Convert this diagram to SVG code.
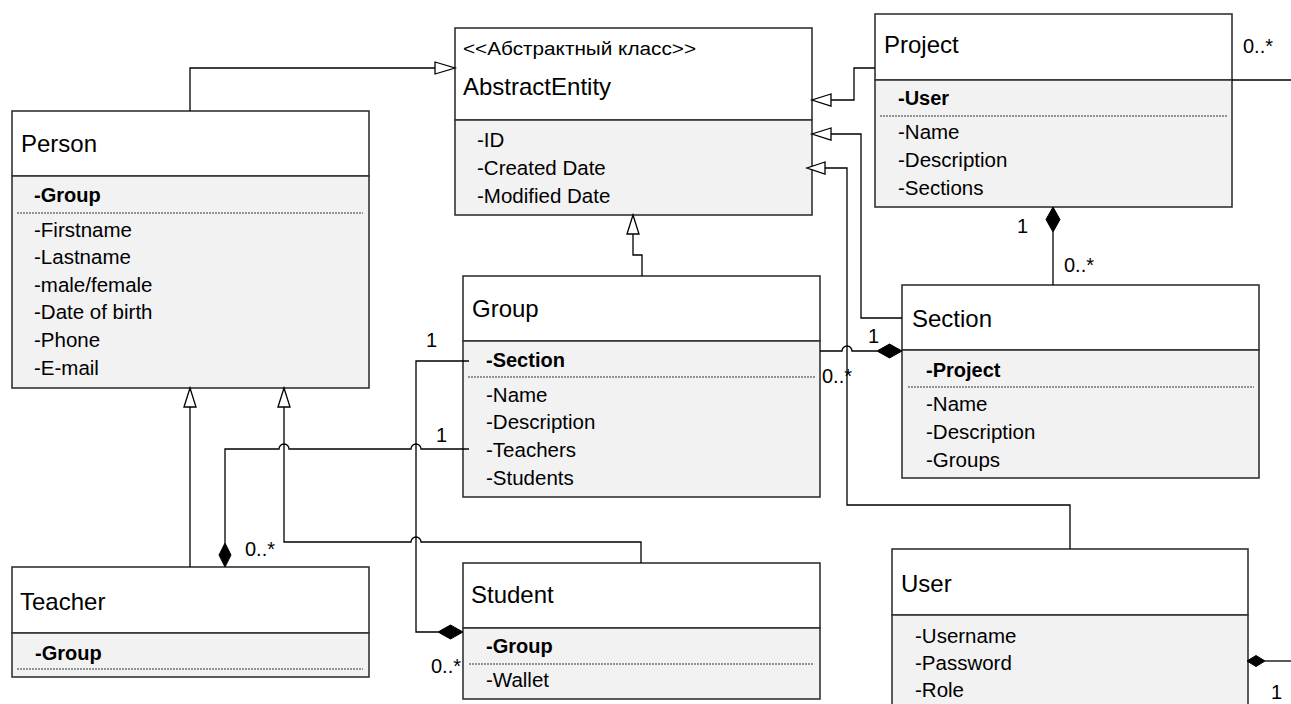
<svg xmlns="http://www.w3.org/2000/svg" width="1291" height="704" viewBox="0 0 1291 704">
  <style>
    text { font-family: "Liberation Sans", Arial, sans-serif; fill: #000; }
    .t { font-size: 24px; }
    .st { font-size: 18px; }
    .a { font-size: 20.5px; }
    .b { font-size: 20px; font-weight: bold; }
    .lbl { font-size: 20px; }
    .hd { fill: #ffffff; stroke: #333; stroke-width: 1.6; }
    .bd { fill: #f2f2f2; stroke: #333; stroke-width: 1.6; }
    .dot { stroke: #333; stroke-width: 1; stroke-dasharray: 2 1; fill: none; }
    .conn { fill: none; stroke: #000; stroke-width: 1.3; }
    .tri { fill: #fff; stroke: #000; stroke-width: 1.3; }
    .dia { fill: #000; stroke: #000; stroke-width: 1; }
  </style>

  <!-- Person -->
  <g id="person">
    <rect class="hd" x="12" y="111" width="357" height="65"/>
    <rect class="bd" x="12" y="176" width="357" height="212"/>
    <text class="t" x="21" y="152">Person</text>
    <text class="b" x="34" y="202">-Group</text>
    <line class="dot" x1="17" y1="213" x2="363" y2="213"/>
    <text class="a" x="34" y="237">-Firstname</text>
    <text class="a" x="34" y="264">-Lastname</text>
    <text class="a" x="34" y="292">-male/female</text>
    <text class="a" x="34" y="319">-Date of birth</text>
    <text class="a" x="34" y="347">-Phone</text>
    <text class="a" x="34" y="375">-E-mail</text>
  </g>

  <!-- AbstractEntity -->
  <g id="abstract-entity">
    <rect class="hd" x="455" y="28" width="357" height="92"/>
    <rect class="bd" x="455" y="120" width="357" height="95"/>
    <text class="st" x="463" y="55" textLength="233" lengthAdjust="spacingAndGlyphs">&lt;&lt;Абстрактный класс&gt;&gt;</text>
    <text class="t" x="463" y="95">AbstractEntity</text>
    <text class="a" x="477" y="147">-ID</text>
    <text class="a" x="477" y="175">-Created Date</text>
    <text class="a" x="477" y="203">-Modified Date</text>
  </g>

  <!-- Project -->
  <g id="project">
    <rect class="hd" x="875" y="14" width="357" height="66"/>
    <rect class="bd" x="875" y="80" width="357" height="127"/>
    <text class="t" x="884" y="53">Project</text>
    <text class="b" x="898" y="105">-User</text>
    <line class="dot" x1="880" y1="116" x2="1227" y2="116"/>
    <text class="a" x="898" y="139">-Name</text>
    <text class="a" x="898" y="167">-Description</text>
    <text class="a" x="898" y="195">-Sections</text>
  </g>

  <!-- Group -->
  <g id="group">
    <rect class="hd" x="463" y="276" width="357" height="65"/>
    <rect class="bd" x="463" y="341" width="357" height="156"/>
    <text class="t" x="472" y="317">Group</text>
    <text class="b" x="486" y="367">-Section</text>
    <line class="dot" x1="468" y1="377" x2="815" y2="377"/>
    <text class="a" x="486" y="402">-Name</text>
    <text class="a" x="486" y="429">-Description</text>
    <text class="a" x="486" y="457">-Teachers</text>
    <text class="a" x="486" y="485">-Students</text>
  </g>

  <!-- Section -->
  <g id="section">
    <rect class="hd" x="902" y="285" width="357" height="65"/>
    <rect class="bd" x="902" y="350" width="357" height="128"/>
    <text class="t" x="912" y="327">Section</text>
    <text class="b" x="926" y="377">-Project</text>
    <line class="dot" x1="908" y1="387" x2="1254" y2="387"/>
    <text class="a" x="926" y="411">-Name</text>
    <text class="a" x="926" y="439">-Description</text>
    <text class="a" x="926" y="467">-Groups</text>
  </g>

  <!-- Teacher -->
  <g id="teacher">
    <rect class="hd" x="12" y="567" width="357" height="66"/>
    <rect class="bd" x="12" y="633" width="357" height="44"/>
    <text class="t" x="20" y="610">Teacher</text>
    <text class="b" x="35" y="660">-Group</text>
    <line class="dot" x1="17" y1="669" x2="363" y2="669"/>
  </g>

  <!-- Student -->
  <g id="student">
    <rect class="hd" x="463" y="563" width="357" height="65"/>
    <rect class="bd" x="463" y="628" width="357" height="71"/>
    <text class="t" x="471" y="603">Student</text>
    <text class="b" x="486" y="653">-Group</text>
    <line class="dot" x1="469" y1="664" x2="814" y2="664"/>
    <text class="a" x="486" y="687">-Wallet</text>
  </g>

  <!-- User -->
  <g id="user">
    <rect class="hd" x="892" y="549" width="356" height="66"/>
    <rect class="bd" x="892" y="615" width="356" height="100"/>
    <text class="t" x="901" y="592">User</text>
    <text class="a" x="915" y="643">-Username</text>
    <text class="a" x="915" y="670">-Password</text>
    <text class="a" x="915" y="697">-Role</text>
  </g>

  <!-- Connectors -->
  <g id="connectors">
    <!-- generalizations to AbstractEntity -->
    <path class="conn" d="M190,111 V68 H435"/>
    <polygon class="tri" points="435,62 455,68 435,74"/>

    <path class="conn" d="M642,276 V255 H633 V234"/>
    <polygon class="tri" points="627,234 633,215 639,234"/>

    <path class="conn" d="M875,68 H854 V100 H831"/>
    <polygon class="tri" points="831,94 812,100 831,106"/>

    <path class="conn" d="M902,318 H861 V134 H831"/>
    <polygon class="tri" points="831,128 812,134 831,140"/>

    <path class="conn" d="M1070,549 V505 H847 V168 H825"/>
    <polygon class="tri" points="825,162 807,168 825,174"/>

    <!-- generalizations to Person -->
    <path class="conn" d="M190,567 V407"/>
    <polygon class="tri" points="184,407 190,388 196,407"/>

    <path class="conn" d="M284,407 V542 H411 a5,5 0 0 1 10,0 H641 V563"/>
    <polygon class="tri" points="278,407 284,388 290,407"/>

    <!-- Group - Section composition -->
    <path class="conn" d="M820,351 H842 a5,5 0 0 1 10,0 H877"/>
    <polygon class="dia" points="877,351 889.5,344 902,351 889.5,358"/>
    <text class="lbl" x="868" y="343">1</text>
    <text class="lbl" x="822" y="383">0..*</text>

    <!-- Project - Section composition -->
    <path class="conn" d="M1053,285 V232"/>
    <polygon class="dia" points="1053,207 1060,219.5 1053,232 1046,219.5"/>
    <text class="lbl" x="1017" y="233">1</text>
    <text class="lbl" x="1064" y="272">0..*</text>

    <!-- Project - User association -->
    <path class="conn" d="M1232,80 H1291"/>
    <text class="lbl" x="1243" y="53">0..*</text>

    <!-- User composition -->
    <path class="conn" d="M1265,661 H1291"/>
    <polygon class="dia" points="1247,661 1256,655.5 1265,661 1256,666.5"/>
    <text class="lbl" x="1271" y="699">1</text>

    <!-- Teacher - Group -->
    <path class="conn" d="M225,543 V449 H279 a5,5 0 0 1 10,0 H411 a5,5 0 0 1 10,0 H469"/>
    <polygon class="dia" points="225,567 231,555 225,543 219,555"/>
    <text class="lbl" x="245" y="556">0..*</text>
    <text class="lbl" x="436" y="442">1</text>

    <!-- Group - Student -->
    <path class="conn" d="M469,361 H416 V632 H438"/>
    <polygon class="dia" points="438,632 450.5,625 463,632 450.5,639"/>
    <text class="lbl" x="426" y="347">1</text>
    <text class="lbl" x="431" y="673">0..*</text>
  </g>
</svg>
